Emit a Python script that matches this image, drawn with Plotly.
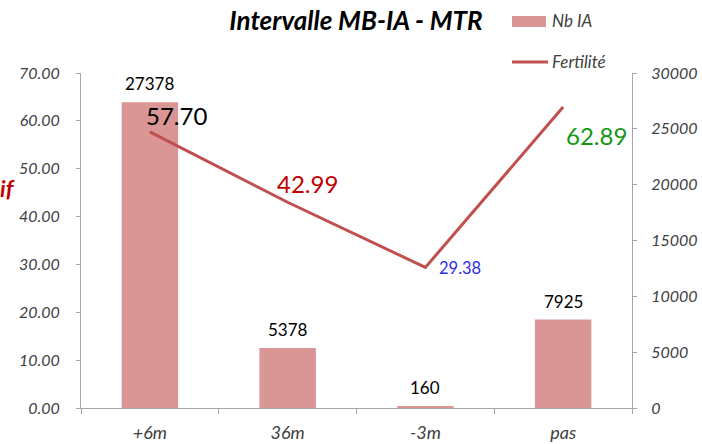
import plotly.graph_objects as go

categories = ["+6m", "36m", "-3m", "pas"]
nb_ia = [27378, 5378, 160, 7925]
fertilite = [57.70, 42.99, 29.38, 62.89]
fert_label_colors = ["#000000", "#C00000", "#2B2BE8", "#169616"]
fert_label_sizes = [24, 24, 16.5, 24]
fert_label_shift = [(27, 16), (20, 19), (35, -1), (33, -28)]

left_ticks = [0, 10, 20, 30, 40, 50, 60, 70]
right_ticks = [0, 5000, 10000, 15000, 20000, 25000, 30000]

FONT = "Lato, 'Open Sans', sans-serif"
AXIS_GRAY = "#A6A6A6"
TICK_COL = "#404040"
BAR_COL = "#D99694"
LINE_COL = "#C0504D"

L, R, T, B = 81, 70, 73, 36
W, H = 702, 444
PW, PH = W - L - R, H - T - B


def px_x(x):
    return (x - L) / PW


def px_y(y):
    return (H - B - y) / PH


fig = go.Figure()
fig.add_trace(go.Bar(
    x=categories, y=nb_ia, name="Nb IA", yaxis="y",
    marker=dict(color=BAR_COL, line=dict(width=0)),
    width=0.41, showlegend=False,
))
fig.add_trace(go.Scatter(
    x=categories, y=fertilite, name="Fertilité", yaxis="y2",
    mode="lines", line=dict(color=LINE_COL, width=3), showlegend=False,
))

# bar value labels
for c, v in zip(categories, nb_ia):
    fig.add_annotation(x=c, y=v, xref="x", yref="y", text=str(v), showarrow=False,
                       yanchor="bottom", yshift=6,
                       font=dict(family=FONT, size=17, color="#000000"))

# line value labels
for c, v, col, sz, (dx, dy) in zip(categories, fertilite, fert_label_colors,
                                    fert_label_sizes, fert_label_shift):
    fig.add_annotation(x=c, y=v, xref="x", yref="y2", text=f"{v:.2f}",
                       showarrow=False, xshift=dx, yshift=dy,
                       font=dict(family=FONT, size=sz, color=col))

# clipped axis title fragment on the left
fig.add_annotation(xref="paper", yref="paper", x=px_x(-2), y=px_y(188),
                   text="<b><i>if</i></b>", showarrow=False,
                   xanchor="left", yanchor="middle",
                   font=dict(family=FONT, size=23, color="#C00000"))

# manual legend
fig.add_shape(type="rect", xref="paper", yref="paper",
              x0=px_x(512), x1=px_x(546), y0=px_y(27), y1=px_y(16),
              fillcolor=BAR_COL, line=dict(width=0))
fig.add_annotation(xref="paper", yref="paper", x=px_x(550), y=px_y(21),
                   text="<i>Nb IA</i>", showarrow=False, xanchor="left", yanchor="middle",
                   font=dict(family=FONT, size=17, color=TICK_COL))
fig.add_shape(type="line", xref="paper", yref="paper",
              x0=px_x(512), x1=px_x(548), y0=px_y(62), y1=px_y(62),
              line=dict(color=LINE_COL, width=3))
fig.add_annotation(xref="paper", yref="paper", x=px_x(550), y=px_y(61),
                   text="<i>Fertilité</i>", showarrow=False, xanchor="left", yanchor="middle",
                   font=dict(family=FONT, size=17, color=TICK_COL))

fig.update_layout(
    width=W, height=H,
    margin=dict(l=L, r=R, t=T, b=B, autoexpand=False),
    paper_bgcolor="white", plot_bgcolor="white",
    title=dict(text="<b><i>Intervalle MB-IA - MTR</i></b>", x=356 / W, xanchor="center",
               y=1 - 21 / H, yanchor="middle",
               font=dict(family=FONT, size=26, color="#000000")),
    showlegend=False,
    xaxis=dict(type="category", showgrid=False, showline=True, linecolor=AXIS_GRAY,
               linewidth=1, ticks="outside", tickson="boundaries", ticklen=5,
               tickcolor=AXIS_GRAY, ticklabelstandoff=8,
               tickfont=dict(family=FONT, size=18, color=TICK_COL, style="italic")),
    yaxis=dict(side="right", range=[0, 30000], tickvals=right_ticks,
               ticktext=[str(t) for t in right_ticks],
               showgrid=False, showline=True, linecolor=AXIS_GRAY, linewidth=1,
               ticks="outside", ticklen=4, tickcolor=AXIS_GRAY, zeroline=False,
               ticklabelstandoff=11,
               tickfont=dict(family=FONT, size=16, color=TICK_COL, style="italic")),
    yaxis2=dict(side="left", overlaying="y", range=[0, 70], tickvals=left_ticks,
                ticktext=[f"{t:.2f}" for t in left_ticks],
                showgrid=False, showline=True, linecolor=AXIS_GRAY, linewidth=1,
                ticks="outside", ticklen=4, tickcolor=AXIS_GRAY, zeroline=False,
                ticklabelstandoff=13,
                tickfont=dict(family=FONT, size=16, color=TICK_COL, style="italic")),
)

fig.write_html("out.html", config={"displayModeBar": False},
               post_script="document.body.style.margin='0';document.body.style.overflow='hidden';")
